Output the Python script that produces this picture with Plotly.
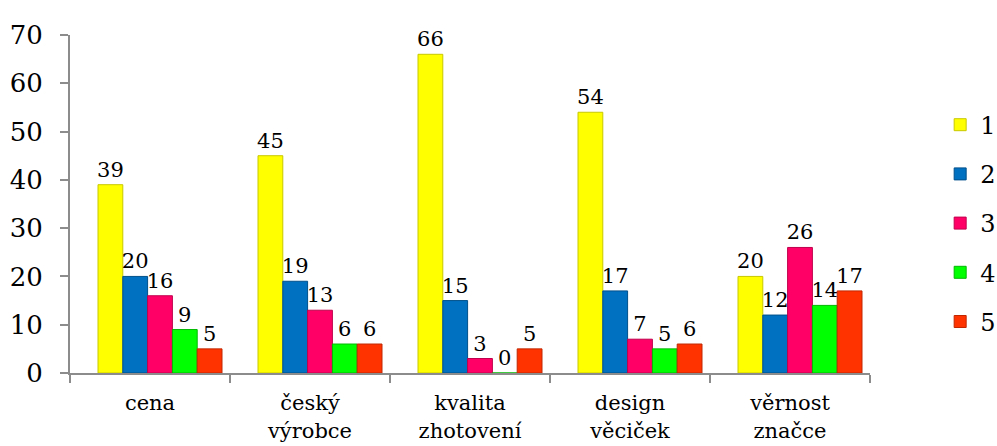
import plotly.graph_objects as go

categories = ["cena", "český<br>výrobce", "kvalita<br>zhotovení", "design<br>věciček", "věrnost<br>značce"]
series_names = ["1", "2", "3", "4", "5"]
values = [
    [39, 45, 66, 54, 20],
    [20, 19, 15, 17, 12],
    [16, 13, 3, 7, 26],
    [9, 6, 0, 5, 14],
    [5, 6, 5, 6, 17],
]
colors = ["#FFFF00", "#0070C0", "#FF0066", "#00FF00", "#FF3300"]
edge_colors = ["#C8C800", "#00508A", "#C0004C", "#00B800", "#C02600"]

FONT = "DejaVu Serif"
bar_w = 0.155
offsets = [-0.325 + i * bar_w for i in range(5)]

fig = go.Figure()
for i, name in enumerate(series_names):
    fig.add_trace(go.Bar(
        x=categories, y=values[i], name=name,
        marker=dict(color=colors[i], line=dict(color=edge_colors[i], width=1)),
        width=bar_w, offset=offsets[i],
        text=[str(v) for v in values[i]], textposition="outside",
        constraintext="none",
        textfont=dict(family=FONT, size=21, color="black"),
        cliponaxis=False, legendgroup=name,
    ))

fig.update_layout(
    width=997, height=446,
    margin=dict(l=70, r=127, t=35, b=73),
    paper_bgcolor="white", plot_bgcolor="white",
    barmode="overlay",
    font=dict(family=FONT, color="black"),
    showlegend=True,
    legend=dict(x=0.943, xanchor="left", xref="container", y=0.80, yanchor="top",
                font=dict(family=FONT, size=24), tracegroupgap=15,
                itemwidth=30, bgcolor="rgba(0,0,0,0)"),
    xaxis=dict(showline=True, linecolor="#8c8c8c", linewidth=2, automargin=False,
               ticks="outside", tickson="boundaries", ticklen=8, tickcolor="#8c8c8c", tickwidth=2,
               tickfont=dict(family=FONT, size=21), showgrid=False, ticklabelstandoff=10),
    yaxis=dict(range=[0, 70], dtick=10, showline=True, linecolor="#8c8c8c", linewidth=2,
               automargin=False,
               ticks="outside", ticklen=8, tickcolor="#8c8c8c", tickwidth=2,
               tickfont=dict(family=FONT, size=26), showgrid=False, zeroline=False,
               ticklabelstandoff=12),
)

fig.write_html("out.html")
